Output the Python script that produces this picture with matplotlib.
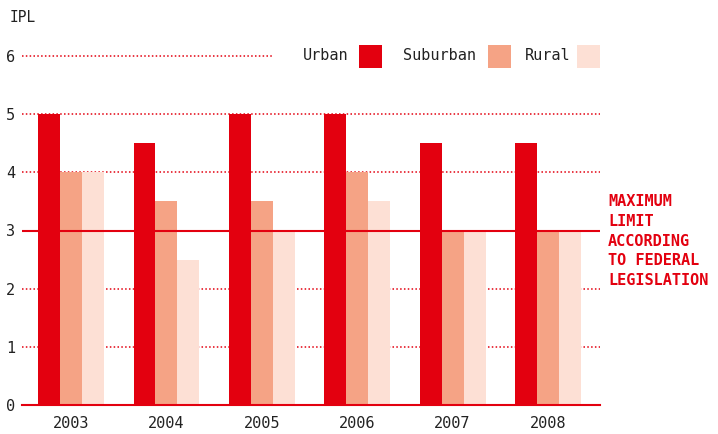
import numpy as np
import matplotlib.pyplot as plt
from matplotlib.patches import Rectangle

years = ['2003', '2004', '2005', '2006', '2007', '2008']
urban = [5, 4.5, 5, 5, 4.5, 4.5]
suburban = [4, 3.5, 3.5, 4, 3, 3]
rural = [4, 2.5, 3, 3.5, 3, 3]
series_names = ['Urban', 'Suburban', 'Rural']
limit = 3
limit_text = 'MAXIMUM\nLIMIT\nACCORDING\nTO FEDERAL\nLEGISLATION'

RED = '#e3000f'
SALMON = '#f5a385'
PINK = '#fde0d5'
TXT = '#222222'
W, H = 718, 434

plt.rcParams['font.family'] = ['DejaVu Sans Mono']

fig = plt.figure(figsize=(W / 100, H / 100), dpi=100)
# axes area in pixels: x 22..600, y 56(=6)..405(=0)
ax = fig.add_axes([22 / W, 1 - 405 / H, (600 - 22) / W, (405 - 56) / H])

x = np.arange(len(years))
bw = 0.23
for k, (vals, col) in enumerate(zip([urban, suburban, rural], [RED, SALMON, PINK])):
    ax.bar(x + (k - 1) * bw, vals, width=bw, color=col, zorder=2, linewidth=0)

ax.set_xlim(-0.514, 5.545)
ax.set_ylim(0, 6)

# dotted grid lines
for v in [1, 2, 4, 5]:
    ax.axhline(v, color=RED, linestyle=(0, (1, 1.5)), linewidth=1.1, zorder=1)
ax.plot([0, (273 - 22) / (600 - 22)], [6, 6], transform=ax.get_yaxis_transform(),
        color=RED, linestyle=(0, (1, 1.5)), linewidth=1.1, clip_on=False)
ax.axhline(limit, color=RED, linewidth=1.5, zorder=3)
ax.axhline(0, color=RED, linewidth=1.5, zorder=3, clip_on=False)

for s in ax.spines.values():
    s.set_visible(False)
ax.set_xticks(x)
ax.set_xticklabels(years, fontsize=11, color=TXT)
ax.set_yticks(range(7))
ax.set_yticklabels([str(i) for i in range(7)], fontsize=11, color=TXT)
ax.tick_params(length=0, pad=8)
ax.tick_params(axis='y', pad=5)

fig.text(10 / W, 1 - 17 / H, 'IPL', fontsize=10.5, color=TXT, va='center', ha='left')

fig.text(608 / W, 1 - 241 / H, limit_text,
         color=RED, fontsize=11, fontweight='bold', va='center', ha='left',
         linespacing=1.38)

# legend
legend_pos = [(303, 359), (403, 488), (525, 577)]
for name, col, (tx, sx) in zip(series_names, [RED, SALMON, PINK], legend_pos):
    fig.text(tx / W, 1 - 55 / H, name, fontsize=11, color=TXT, va='center', ha='left')
    fig.patches.append(Rectangle((sx / W, 1 - 68 / H), 23 / W, 23 / H,
                                 transform=fig.transFigure, color=col, linewidth=0))

fig.savefig('out.png', dpi=100)
